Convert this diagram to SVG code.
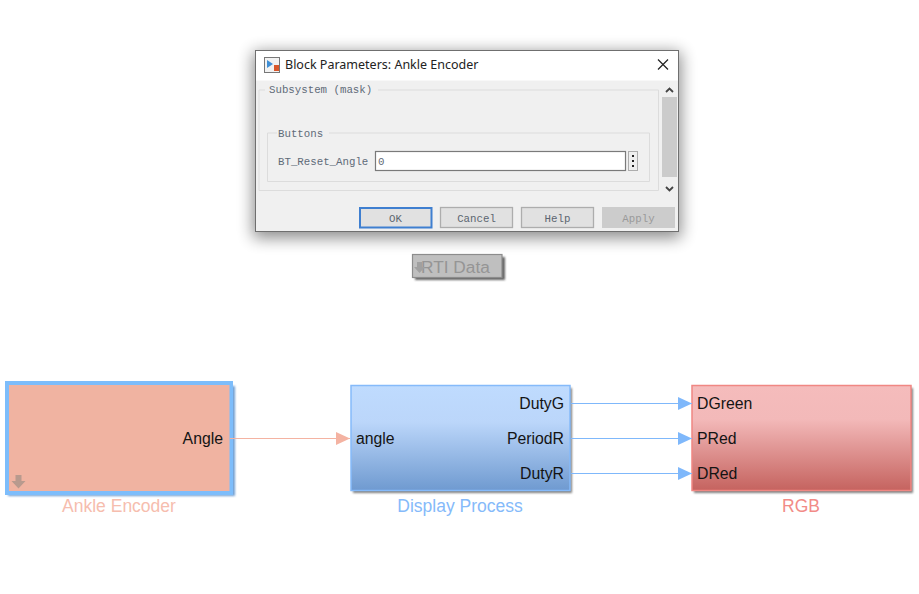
<svg xmlns="http://www.w3.org/2000/svg" width="919" height="594" viewBox="0 0 919 594">
<defs>
<linearGradient id="gb" x1="0" y1="0" x2="0" y2="1"><stop offset="0" stop-color="#bfdbfe"/><stop offset="0.35" stop-color="#bbd6fa"/><stop offset="1" stop-color="#6f9ad0"/></linearGradient>
<linearGradient id="gr" x1="0" y1="0" x2="0" y2="1"><stop offset="0" stop-color="#f5bcbc"/><stop offset="0.32" stop-color="#f3b9b9"/><stop offset="1" stop-color="#c5635f"/></linearGradient>
<filter id="sh" x="-10%" y="-15%" width="120%" height="135%"><feGaussianBlur stdDeviation="1.2"/></filter>
<filter id="dsh" x="-15%" y="-30%" width="130%" height="160%"><feGaussianBlur stdDeviation="8"/></filter>
<marker id="ab" markerUnits="userSpaceOnUse" markerWidth="14" markerHeight="14" refX="14" refY="7" orient="auto"><path d="M0,0.5 L14,7 L0,13.5 Z" fill="#7fb8fb"/></marker>
<marker id="ap" markerUnits="userSpaceOnUse" markerWidth="14" markerHeight="14" refX="14" refY="7" orient="auto"><path d="M0,0.5 L14,7 L0,13.5 Z" fill="#f4b3a2"/></marker>
</defs>
<style>
text{font-family:"Liberation Sans",Arial,sans-serif}
.port{font-size:15.8px;fill:#141414}
.cap{font-size:17.5px;text-anchor:middle}
.m{font-family:"Liberation Mono",monospace;font-size:10.75px;fill:#5f6b78}
.btn{fill:#e1e1e1;stroke:#adadad;stroke-width:1.3}
.bt{font-family:"Liberation Mono",monospace;font-size:10.75px;text-anchor:middle;fill:#5c6670}
.grp{fill:none;stroke:#dcdcdc;stroke-width:1}
.shadow{fill:#555;opacity:.75;filter:url(#sh)}
</style>
<rect width="919" height="594" fill="#fff"/>
<g id="dialog">
<rect x="253" y="52" width="428" height="186" fill="#000" opacity=".45" filter="url(#dsh)"/>
<rect x="255.500" y="50.500" width="423" height="181" fill="#f0f0f0" stroke="#6f6f6f" stroke-width="1"/>
<rect x="256" y="51" width="422" height="29.500" fill="#fff"/>
<rect x="264.500" y="57.500" width="15" height="15" fill="#f2f2f2" stroke="#777"/>
<path d="M267,60 L273,64 L267,68Z" fill="#3f8fd6"/><rect x="274" y="65" width="5" height="6" fill="#d9572b"/>
<text x="285" y="69" font-size="12.500px" fill="#222" style="font-family:'Noto Sans','Liberation Sans',sans-serif">Block Parameters: Ankle Encoder</text>
<path d="M658,59.500 L668,69.500 M668,59.500 L658,69.500" stroke="#222" stroke-width="1.200" fill="none"/>
<rect x="662" y="97" width="15" height="80" fill="#cbcbcb"/>
<path d="M666,92 L669.500,88.500 L673,92 M666,187 L669.500,190.500 L673,187" fill="none" stroke="#444" stroke-width="1.800"/>
<path class="grp" d="M265,90 H259 V190.500 H658.500 V90 H378"/>
<text class="m" x="269" y="93">Subsystem (mask)</text>
<path class="grp" d="M277,133 H267.500 V181.500 H649.500 V133 H329"/>
<text class="m" x="278" y="137">Buttons</text>
<text class="m" x="278" y="165">BT_Reset_Angle</text>
<rect x="375.500" y="151.500" width="250" height="19" fill="#fff" stroke="#7a7a7a" stroke-width="1.200"/>
<text class="m" x="378" y="165">0</text>
<rect x="628.500" y="151.500" width="9" height="19" fill="#eee" stroke="#adadad"/>
<path d="M633,155 v2 M633,160 v2 M633,165 v2" stroke="#222" stroke-width="2"/>
<rect x="360" y="208" width="71.500" height="19.500" fill="#e1e1e1" stroke="#3f7fd0" stroke-width="2"/>
<text class="bt" x="395.500" y="222">OK</text>
<rect class="btn" x="440.500" y="207.500" width="72" height="20"/>
<text class="bt" x="476.500" y="222">Cancel</text>
<rect class="btn" x="521.500" y="207.500" width="72" height="20"/>
<text class="bt" x="557.500" y="222">Help</text>
<rect x="602" y="207" width="73" height="21" fill="#cccccc"/>
<text class="bt" x="638.500" y="222" style="fill:#9a9a9a">Apply</text>
</g>
<g id="rti-data">
<rect x="415" y="257" width="90" height="23" class="shadow" style="fill:#333"/>
<rect x="412.500" y="254.500" width="89.500" height="23" fill="#bfbfbf" stroke="#8c8c8c" stroke-width="1.200"/>
<text x="421" y="272.500" font-size="17.300" fill="#959595">RTI Data</text>
<path d="M417,262 h5 v5 h3 l-5.500,6 l-5.500,-6 h3 Z" fill="#a0a0a0"/>
</g>
<g id="ankle-encoder">
<rect x="8" y="386" width="227" height="110" class="shadow" style="fill:#3f7fc4"/>
<rect x="5" y="381" width="228" height="114" fill="#7dbdfb"/>
<rect x="9" y="385" width="220.500" height="106" fill="#f0b3a1"/>
<text class="port" x="223" y="444" text-anchor="end">Angle</text>
<path d="M15.500,475 h6 v6 h4 l-7,7.500 l-7,-7.500 h4 Z" fill="#b89a8e"/>
<text class="cap" x="119" y="512" fill="#f6bdae">Ankle Encoder</text>
</g>
<g id="display-process">
<rect x="353" y="388" width="219" height="105" class="shadow"/>
<rect x="351" y="385.500" width="219" height="105" fill="url(#gb)" stroke="#85bafa" stroke-width="1.500"/>
<text class="port" x="356" y="444">angle</text>
<text class="port" x="564" y="409" text-anchor="end">DutyG</text>
<text class="port" x="564" y="444" text-anchor="end">PeriodR</text>
<text class="port" x="564" y="479" text-anchor="end">DutyR</text>
<text class="cap" x="460" y="512" fill="#85bafa">Display Process</text>
</g>
<g id="rgb">
<rect x="694" y="388" width="219" height="105" class="shadow"/>
<rect x="692" y="385.500" width="219" height="105" fill="url(#gr)" stroke="#f08783" stroke-width="1.500"/>
<text class="port" x="697" y="409">DGreen</text>
<text class="port" x="697" y="444">PRed</text>
<text class="port" x="697" y="479">DRed</text>
<text class="cap" x="801" y="512" fill="#f28b87">RGB</text>
</g>
<g id="connectors" fill="none" stroke-width="1">
<path d="M230,438.500 H350" stroke="#f4b3a2" marker-end="url(#ap)"/>
<path d="M571,403.500 H692" stroke="#7fb8fb" marker-end="url(#ab)"/>
<path d="M571,438.500 H692" stroke="#7fb8fb" marker-end="url(#ab)"/>
<path d="M571,473.500 H692" stroke="#7fb8fb" marker-end="url(#ab)"/>
</g>
</svg>
